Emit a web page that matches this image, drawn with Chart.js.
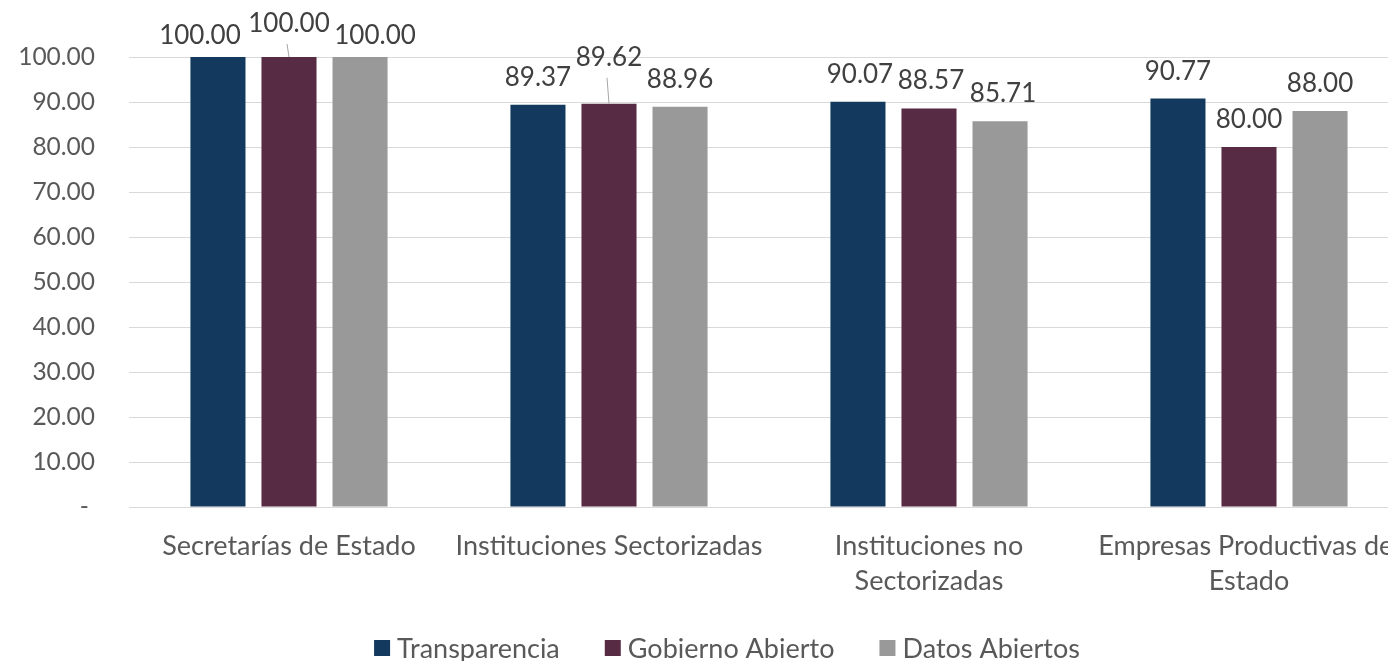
<!DOCTYPE html>
<html>
<head>
<meta charset="utf-8">
<script src="https://cdn.jsdelivr.net/npm/chart.js@4.4.1/dist/chart.umd.min.js"></script>
<style>
  html, body { margin: 0; padding: 0; background: #fff; overflow: hidden; }
  #wrap { width: 1388px; height: 661px; overflow: hidden; }
</style>
</head>
<body>
<div id="wrap"><canvas id="grafico" width="1454" height="661"></canvas></div>
<script>
// categorias y series
const categorias = [
  'Secretarías de Estado',
  'Instituciones Sectorizadas',
  ['Instituciones no', 'Sectorizadas'],
  ['Empresas Productivas del', 'Estado']
];
const transparencia = [100.00, 89.37, 90.07, 90.77];
const gobiernoAbierto = [100.00, 89.62, 88.57, 80.00];
const datosAbiertos = [100.00, 88.96, 85.71, 88.00];
const nombresSeries = ['Transparencia', 'Gobierno Abierto', 'Datos Abiertos'];
const colores = ['#133A5E', '#582B44', '#999999'];

// ajustes de las etiquetas que Excel movio para que no se encimen (px)
const subirEtiqueta = [
  [-6, 0, 0, 0],
  [6, 19, 0, 0],
  [-6, 0, 0, 0]
];
const moverEtiquetaX = [
  [-18, 0, 2, 0],
  [0, 0, 2, 0],
  [15, 0, 3, 0]
];
const conLinea = [
  [false, false, false, false],
  [true, true, false, false],
  [false, false, false, false]
];

const fuente = 'Lato, "Open Sans", sans-serif';

const etiquetasPlugin = {
  id: 'etiquetas',
  afterDatasetsDraw(chart) {
    const ctx = chart.ctx;
    ctx.save();
    ctx.font = '26px ' + fuente;
    ctx.textAlign = 'center';
    ctx.textBaseline = 'alphabetic';
    chart.data.datasets.forEach(function (ds, i) {
      const meta = chart.getDatasetMeta(i);
      meta.data.forEach(function (barra, j) {
        const base = barra.y - 19 - subirEtiqueta[i][j];
        const x = barra.x + moverEtiquetaX[i][j];
        ctx.fillStyle = '#404040';
        ctx.fillText(ds.data[j].toFixed(2), x, base);
        if (conLinea[i][j]) {
          ctx.strokeStyle = '#a6a6a6';
          ctx.lineWidth = 1;
          ctx.beginPath();
          ctx.moveTo(barra.x - 2, base + 12);
          ctx.lineTo(barra.x, barra.y);
          ctx.stroke();
        }
      });
    });
    ctx.restore();
  }
};

const leyendaPlugin = {
  id: 'leyenda',
  afterDraw(chart) {
    const ctx = chart.ctx;
    ctx.save();
    ctx.font = '27px ' + fuente;
    ctx.textBaseline = 'middle';
    ctx.textAlign = 'left';
    const caja = 16, sep = 7, hueco = 45, y = 648;
    let total = 0;
    nombresSeries.forEach(function (n, i) {
      total += caja + sep + ctx.measureText(n).width;
      if (i < nombresSeries.length - 1) total += hueco;
    });
    let x = 727 - total / 2;
    nombresSeries.forEach(function (n, i) {
      ctx.fillStyle = colores[i];
      ctx.fillRect(x, y - caja / 2, caja, caja);
      x += caja + sep;
      ctx.fillStyle = '#595959';
      ctx.fillText(n, x, y + 1);
      x += ctx.measureText(n).width + hueco;
    });
    ctx.restore();
  }
};

const datos = [transparencia, gobiernoAbierto, datosAbiertos];

new Chart(document.getElementById('grafico'), {
  type: 'bar',
  data: {
    labels: categorias,
    datasets: nombresSeries.map(function (n, i) {
      return {
        label: n,
        data: datos[i],
        backgroundColor: colores[i],
        borderWidth: 0,
        categoryPercentage: 0.666,
        barPercentage: 0.775
      };
    })
  },
  options: {
    responsive: false,
    animation: false,
    layout: { padding: { top: 57, right: 45, left: 0, bottom: 0 } },
    plugins: {
      legend: { display: false },
      tooltip: { enabled: false }
    },
    scales: {
      x: {
        grid: { display: false, drawTicks: false },
        border: { color: '#d9d9d9', width: 1 },
        ticks: {
          color: '#595959',
          font: { size: 27, family: fuente, lineHeight: 1.3 },
          padding: 22,
          maxRotation: 0,
          autoSkip: false
        },
        afterFit: function (scale) { scale.height = 154; }
      },
      y: {
        min: 0,
        max: 100,
        grid: { color: '#d9d9d9', lineWidth: 1, drawTicks: false },
        border: { display: false },
        ticks: {
          stepSize: 10,
          color: '#595959',
          font: { size: 24.5, family: fuente },
          padding: 34,
          callback: function (v) { return v === 0 ? '- ' : v.toFixed(2); }
        },
        afterFit: function (scale) { scale.width = 129; }
      }
    }
  },
  plugins: [etiquetasPlugin, leyendaPlugin]
});
</script>
</body>
</html>
